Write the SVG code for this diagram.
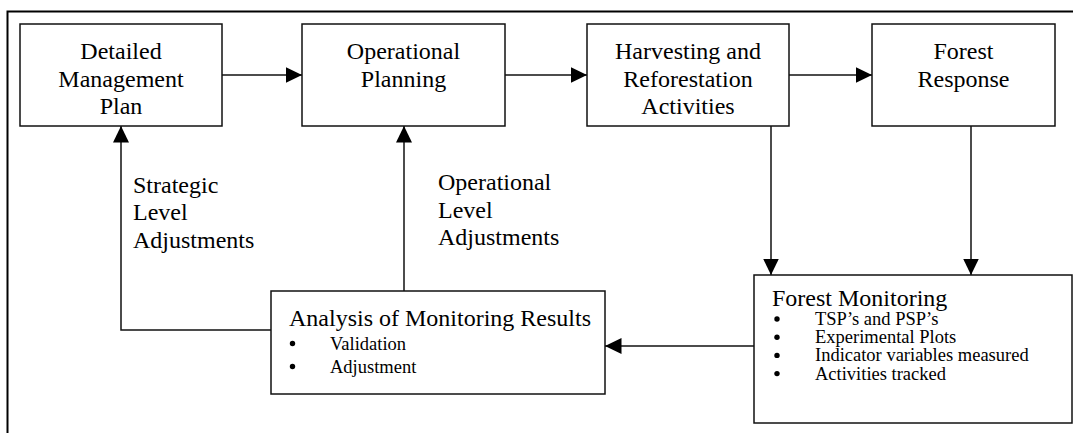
<svg xmlns="http://www.w3.org/2000/svg" width="1073" height="433" viewBox="0 0 1073 433">
  <style>
    .box { fill: #ffffff; stroke: #111111; stroke-width: 1.5; }
    .frame { fill: none; stroke: #000000; stroke-width: 2; }
    .link { fill: none; stroke: #111111; stroke-width: 1.5; }
    .t { font-family: "Liberation Serif", "Times New Roman", serif; fill: #000000; }
    .big { font-size: 24px; }
    .small { font-size: 18.5px; }
    .mid { text-anchor: middle; }
  </style>
  <defs>
    <marker id="head" markerUnits="userSpaceOnUse" markerWidth="17" markerHeight="17" viewBox="0 0 17 17" refX="16.5" refY="8.5" orient="auto">
      <path d="M0,0.5 L16.5,8.5 L0,16.5 Z" fill="#000000"/>
    </marker>
  </defs>

  <rect width="1073" height="433" fill="#ffffff"/>
  <!-- outer frame -->
  <path class="frame" d="M7.5,433 V11.5 H1073"/>

  <!-- connectors -->
  <g id="connectors">
    <path class="link" d="M222,75 H302" marker-end="url(#head)"/>
    <path class="link" d="M505,75 H587" marker-end="url(#head)"/>
    <path class="link" d="M789,75 H872" marker-end="url(#head)"/>
    <path class="link" d="M771,126 V275" marker-end="url(#head)"/>
    <path class="link" d="M971,126 V275" marker-end="url(#head)"/>
    <path class="link" d="M754,346 H605" marker-end="url(#head)"/>
    <path class="link" d="M404,291 V126" marker-end="url(#head)"/>
    <path class="link" d="M271,330 H121 V126" marker-end="url(#head)"/>
    <text class="t big" x="133" y="193">Strategic</text>
    <text class="t big" x="133" y="220">Level</text>
    <text class="t big" x="133" y="247.5">Adjustments</text>
    <text class="t big" x="438" y="190">Operational</text>
    <text class="t big" x="438" y="217.5">Level</text>
    <text class="t big" x="438" y="245">Adjustments</text>
  </g>

  <g id="detailed-management-plan">
    <rect class="box" x="20" y="24" width="202" height="102"/>
    <text class="t big mid" x="121" y="59">Detailed</text>
    <text class="t big mid" x="121" y="87">Management</text>
    <text class="t big mid" x="121" y="114">Plan</text>
  </g>

  <g id="operational-planning">
    <rect class="box" x="302" y="24" width="203" height="102"/>
    <text class="t big mid" x="403.5" y="59">Operational</text>
    <text class="t big mid" x="403.5" y="87">Planning</text>
  </g>

  <g id="harvesting-reforestation">
    <rect class="box" x="587" y="24" width="202" height="102"/>
    <text class="t big mid" x="688" y="59">Harvesting and</text>
    <text class="t big mid" x="688" y="87">Reforestation</text>
    <text class="t big mid" x="688" y="114">Activities</text>
  </g>

  <g id="forest-response">
    <rect class="box" x="872" y="24" width="183" height="102"/>
    <text class="t big mid" x="963.5" y="59">Forest</text>
    <text class="t big mid" x="963.5" y="87">Response</text>
  </g>

  <g id="analysis-of-monitoring-results">
    <rect class="box" x="271" y="291" width="334" height="103"/>
    <text class="t big" x="289" y="325.5">Analysis of Monitoring Results</text>
    <circle cx="292.5" cy="343.5" r="2.7" fill="#000"/>
    <text class="t small" x="330" y="349.5">Validation</text>
    <circle cx="292.5" cy="366.5" r="2.7" fill="#000"/>
    <text class="t small" x="330" y="372.5">Adjustment</text>
  </g>

  <g id="forest-monitoring">
    <rect class="box" x="754" y="275" width="318" height="148"/>
    <text class="t big" x="772" y="305.5">Forest Monitoring</text>
    <circle cx="777" cy="319" r="2.7" fill="#000"/>
    <text class="t small" x="815" y="325">TSP’s and PSP’s</text>
    <circle cx="777" cy="337.2" r="2.7" fill="#000"/>
    <text class="t small" x="815" y="343.2">Experimental Plots</text>
    <circle cx="777" cy="355.4" r="2.7" fill="#000"/>
    <text class="t small" x="815" y="361.4">Indicator variables measured</text>
    <circle cx="777" cy="373.6" r="2.7" fill="#000"/>
    <text class="t small" x="815" y="379.6">Activities tracked</text>
  </g>
</svg>
